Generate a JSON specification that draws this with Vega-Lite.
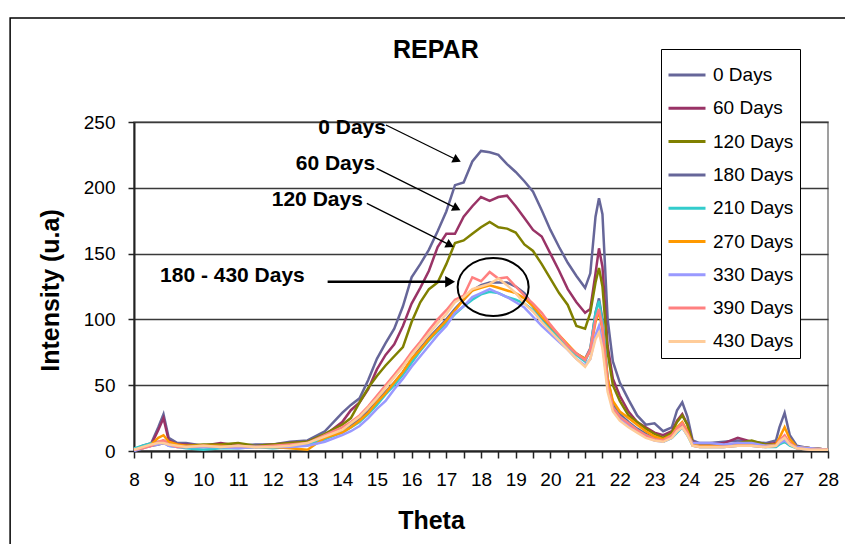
{
  "$schema": "https://vega.github.io/schema/vega-lite/v6.json",
  "width": 694,
  "height": 329,
  "autosize": {"type": "none"},
  "padding": {"left": 134, "top": 122, "right": 17, "bottom": 93},
  "background": "white",
  "config": {
    "font": "Liberation Sans",
    "view": {"stroke": "#808080", "strokeWidth": 1.5},
    "axis": {"labelFont": "Liberation Sans", "labelFontSize": 19, "labelColor": "black", "titleFont": "Liberation Sans", "titleFontSize": 25, "titleFontWeight": "bold", "titleColor": "black", "domainColor": "#222222", "tickColor": "#222222", "labelOverlap": false},
    "legend": {"orient": "none", "legendX": 527, "legendY": -73, "strokeColor": "black", "fillColor": "white", "padding": 6, "labelFont": "Liberation Sans", "labelFontSize": 19, "labelColor": "black", "symbolType": "stroke", "symbolStrokeWidth": 3, "symbolSize": 1369, "labelOffset": 6, "rowPadding": 3.3}
  },
  "resolve": {"axis": {"x": "independent"}},
  "layer": [
    {
      "data": {"values": [{}]},
      "mark": {"type": "rect", "fill": "transparent", "stroke": "black", "strokeWidth": 1.5},
      "encoding": {"x": {"datum": 4.43, "type": "quantitative", "scale": {"domain": [8, 28], "nice": false, "zero": false}, "axis": {"orient": "bottom", "values": [8.5, 9.5, 10.5, 11.5, 12.5, 13.5, 14.5, 15.5, 16.5, 17.5, 18.5, 19.5, 20.5, 21.5, 22.5, 23.5, 24.5, 25.5, 26.5, 27.5], "labels": false, "domain": false, "grid": false, "ticks": true, "tickSize": 7, "tickWidth": 1.5, "tickColor": "#222222", "title": null}}, "x2": {"datum": 40}, "y": {"datum": 329, "type": "quantitative", "title": "Intensity (u.a)"}, "y2": {"datum": -100}}
    },
    {
      "data": {"values": [{"label": "REPAR"}]},
      "mark": {"type": "text", "font": "Liberation Sans", "fontSize": 25, "fontWeight": "bold", "align": "center", "baseline": "alphabetic", "color": "black"},
      "encoding": {"x": {"datum": 16.7, "type": "quantitative", "axis": null}, "y": {"datum": 298.6, "type": "quantitative", "title": "Intensity (u.a)"}, "text": {"field": "label"}}
    },
    {
      "data": {"values": [
        {"t": 8, "0 Days": 1, "60 Days": 1, "120 Days": 1, "180 Days": 1, "210 Days": 2, "270 Days": 1, "330 Days": 0, "390 Days": 1, "430 Days": 1},
        {"t": 8.25, "0 Days": 4, "60 Days": 3, "120 Days": 3, "180 Days": 3, "210 Days": 4, "270 Days": 2, "330 Days": 2, "390 Days": 2, "430 Days": 3},
        {"t": 8.5, "0 Days": 6, "60 Days": 5, "120 Days": 4, "180 Days": 4, "210 Days": 6, "270 Days": 5, "330 Days": 4, "390 Days": 4, "430 Days": 5},
        {"t": 8.7, "0 Days": 18, "60 Days": 16, "120 Days": 5, "180 Days": 6, "210 Days": 7, "270 Days": 10, "330 Days": 5, "390 Days": 7, "430 Days": 6},
        {"t": 8.85, "0 Days": 28, "60 Days": 25, "120 Days": 6, "180 Days": 8, "210 Days": 7, "270 Days": 12, "330 Days": 6, "390 Days": 8, "430 Days": 6},
        {"t": 9, "0 Days": 10, "60 Days": 8, "120 Days": 5, "180 Days": 5, "210 Days": 4, "270 Days": 7, "330 Days": 4, "390 Days": 5, "430 Days": 5},
        {"t": 9.25, "0 Days": 6, "60 Days": 5, "120 Days": 4, "180 Days": 4, "210 Days": 3, "270 Days": 5, "330 Days": 3, "390 Days": 3, "430 Days": 4},
        {"t": 9.5, "0 Days": 6, "60 Days": 5, "120 Days": 4, "180 Days": 3, "210 Days": 2, "270 Days": 4, "330 Days": 3, "390 Days": 3, "430 Days": 3},
        {"t": 10, "0 Days": 4, "60 Days": 4, "120 Days": 5, "180 Days": 3, "210 Days": 1, "270 Days": 4, "330 Days": 3, "390 Days": 4, "430 Days": 4},
        {"t": 10.5, "0 Days": 5, "60 Days": 6, "120 Days": 5, "180 Days": 3, "210 Days": 2, "270 Days": 4, "330 Days": 3, "390 Days": 3, "430 Days": 3},
        {"t": 11, "0 Days": 4, "60 Days": 4, "120 Days": 6, "180 Days": 3, "210 Days": 2, "270 Days": 3, "330 Days": 2, "390 Days": 4, "430 Days": 4},
        {"t": 11.5, "0 Days": 5, "60 Days": 4, "120 Days": 4, "180 Days": 4, "210 Days": 3, "270 Days": 3, "330 Days": 3, "390 Days": 3, "430 Days": 3},
        {"t": 12, "0 Days": 5, "60 Days": 5, "120 Days": 5, "180 Days": 3, "210 Days": 2, "270 Days": 3, "330 Days": 3, "390 Days": 4, "430 Days": 3},
        {"t": 12.5, "0 Days": 7, "60 Days": 6, "120 Days": 6, "180 Days": 4, "210 Days": 3, "270 Days": 2, "330 Days": 3, "390 Days": 5, "430 Days": 4},
        {"t": 13, "0 Days": 8, "60 Days": 7, "120 Days": 7, "180 Days": 5, "210 Days": 5, "270 Days": 1, "330 Days": 4, "390 Days": 6, "430 Days": 6},
        {"t": 13.5, "0 Days": 15, "60 Days": 12, "120 Days": 13, "180 Days": 9, "210 Days": 9, "270 Days": 10, "330 Days": 7, "390 Days": 12, "430 Days": 11},
        {"t": 14, "0 Days": 29, "60 Days": 22, "120 Days": 20, "180 Days": 15, "210 Days": 14, "270 Days": 14, "330 Days": 12, "390 Days": 18, "430 Days": 16},
        {"t": 14.25, "0 Days": 35, "60 Days": 31, "120 Days": 25, "180 Days": 20, "210 Days": 18, "270 Days": 18, "330 Days": 15, "390 Days": 22, "430 Days": 21},
        {"t": 14.5, "0 Days": 40, "60 Days": 37, "120 Days": 37, "180 Days": 24, "210 Days": 22, "270 Days": 23, "330 Days": 19, "390 Days": 27, "430 Days": 26},
        {"t": 14.75, "0 Days": 54, "60 Days": 47, "120 Days": 48, "180 Days": 30, "210 Days": 28, "270 Days": 29, "330 Days": 25, "390 Days": 34, "430 Days": 33},
        {"t": 15, "0 Days": 70, "60 Days": 62, "120 Days": 57, "180 Days": 38, "210 Days": 35, "270 Days": 37, "330 Days": 32, "390 Days": 42, "430 Days": 40},
        {"t": 15.25, "0 Days": 82, "60 Days": 73, "120 Days": 65, "180 Days": 45, "210 Days": 43, "270 Days": 44, "330 Days": 38, "390 Days": 50, "430 Days": 48},
        {"t": 15.5, "0 Days": 93, "60 Days": 81, "120 Days": 72, "180 Days": 52, "210 Days": 50, "270 Days": 52, "330 Days": 47, "390 Days": 58, "430 Days": 56},
        {"t": 15.75, "0 Days": 110, "60 Days": 95, "120 Days": 79, "180 Days": 60, "210 Days": 58, "270 Days": 60, "330 Days": 55, "390 Days": 66, "430 Days": 64},
        {"t": 16, "0 Days": 132, "60 Days": 112, "120 Days": 98, "180 Days": 70, "210 Days": 67, "270 Days": 70, "330 Days": 64, "390 Days": 75, "430 Days": 73},
        {"t": 16.25, "0 Days": 142, "60 Days": 124, "120 Days": 113, "180 Days": 78, "210 Days": 76, "270 Days": 77, "330 Days": 72, "390 Days": 83, "430 Days": 81},
        {"t": 16.5, "0 Days": 153, "60 Days": 137, "120 Days": 123, "180 Days": 86, "210 Days": 84, "270 Days": 85, "330 Days": 80, "390 Days": 92, "430 Days": 89},
        {"t": 16.75, "0 Days": 167, "60 Days": 155, "120 Days": 128, "180 Days": 93, "210 Days": 91, "270 Days": 92, "330 Days": 88, "390 Days": 100, "430 Days": 97},
        {"t": 17, "0 Days": 182, "60 Days": 165, "120 Days": 142, "180 Days": 100, "210 Days": 97, "270 Days": 99, "330 Days": 95, "390 Days": 107, "430 Days": 104},
        {"t": 17.25, "0 Days": 202, "60 Days": 165, "120 Days": 158, "180 Days": 108, "210 Days": 104, "270 Days": 107, "330 Days": 105, "390 Days": 115, "430 Days": 113},
        {"t": 17.5, "0 Days": 204, "60 Days": 178, "120 Days": 160, "180 Days": 115, "210 Days": 110, "270 Days": 115, "330 Days": 110, "390 Days": 118, "430 Days": 117},
        {"t": 17.75, "0 Days": 220, "60 Days": 186, "120 Days": 165, "180 Days": 122, "210 Days": 115, "270 Days": 122, "330 Days": 117, "390 Days": 132, "430 Days": 123},
        {"t": 18, "0 Days": 228, "60 Days": 193, "120 Days": 170, "180 Days": 126, "210 Days": 119, "270 Days": 124, "330 Days": 120, "390 Days": 129, "430 Days": 125},
        {"t": 18.25, "0 Days": 227, "60 Days": 190, "120 Days": 174, "180 Days": 128, "210 Days": 121, "270 Days": 126, "330 Days": 123, "390 Days": 136, "430 Days": 127},
        {"t": 18.5, "0 Days": 225, "60 Days": 193, "120 Days": 170, "180 Days": 128, "210 Days": 120, "270 Days": 124, "330 Days": 120, "390 Days": 131, "430 Days": 131},
        {"t": 18.75, "0 Days": 218, "60 Days": 194, "120 Days": 169, "180 Days": 128, "210 Days": 117, "270 Days": 122, "330 Days": 117, "390 Days": 132, "430 Days": 126},
        {"t": 19, "0 Days": 212, "60 Days": 186, "120 Days": 166, "180 Days": 125, "210 Days": 115, "270 Days": 120, "330 Days": 113, "390 Days": 125, "430 Days": 120},
        {"t": 19.25, "0 Days": 205, "60 Days": 177, "120 Days": 157, "180 Days": 120, "210 Days": 112, "270 Days": 116, "330 Days": 109, "390 Days": 118, "430 Days": 112},
        {"t": 19.5, "0 Days": 197, "60 Days": 168, "120 Days": 152, "180 Days": 110, "210 Days": 107, "270 Days": 110, "330 Days": 102, "390 Days": 112, "430 Days": 106},
        {"t": 19.75, "0 Days": 183, "60 Days": 163, "120 Days": 142, "180 Days": 100, "210 Days": 99, "270 Days": 102, "330 Days": 95, "390 Days": 105, "430 Days": 98},
        {"t": 20, "0 Days": 168, "60 Days": 150, "120 Days": 131, "180 Days": 93, "210 Days": 92, "270 Days": 95, "330 Days": 89, "390 Days": 96, "430 Days": 91},
        {"t": 20.25, "0 Days": 155, "60 Days": 137, "120 Days": 120, "180 Days": 87, "210 Days": 86, "270 Days": 88, "330 Days": 83, "390 Days": 88, "430 Days": 84},
        {"t": 20.5, "0 Days": 143, "60 Days": 123, "120 Days": 111, "180 Days": 80, "210 Days": 79, "270 Days": 81, "330 Days": 77, "390 Days": 80, "430 Days": 77},
        {"t": 20.75, "0 Days": 133, "60 Days": 113, "120 Days": 95, "180 Days": 74, "210 Days": 73, "270 Days": 74, "330 Days": 70, "390 Days": 74, "430 Days": 70},
        {"t": 21, "0 Days": 124, "60 Days": 105, "120 Days": 93, "180 Days": 70, "210 Days": 68, "270 Days": 70, "330 Days": 65, "390 Days": 69, "430 Days": 64},
        {"t": 21.15, "0 Days": 135, "60 Days": 108, "120 Days": 105, "180 Days": 78, "210 Days": 77, "270 Days": 76, "330 Days": 70, "390 Days": 77, "430 Days": 70},
        {"t": 21.3, "0 Days": 178, "60 Days": 135, "120 Days": 128, "180 Days": 105, "210 Days": 105, "270 Days": 98, "330 Days": 88, "390 Days": 100, "430 Days": 85},
        {"t": 21.4, "0 Days": 192, "60 Days": 154, "120 Days": 139, "180 Days": 116, "210 Days": 114, "270 Days": 106, "330 Days": 95, "390 Days": 108, "430 Days": 90},
        {"t": 21.5, "0 Days": 180, "60 Days": 140, "120 Days": 125, "180 Days": 100, "210 Days": 98, "270 Days": 92, "330 Days": 82, "390 Days": 94, "430 Days": 78},
        {"t": 21.65, "0 Days": 100, "60 Days": 80, "120 Days": 75, "180 Days": 55, "210 Days": 52, "270 Days": 55, "330 Days": 48, "390 Days": 50, "430 Days": 45},
        {"t": 21.8, "0 Days": 68, "60 Days": 55, "120 Days": 50, "180 Days": 36, "210 Days": 33, "270 Days": 38, "330 Days": 32, "390 Days": 33, "430 Days": 30},
        {"t": 22, "0 Days": 52, "60 Days": 42, "120 Days": 38, "180 Days": 28, "210 Days": 26, "270 Days": 30, "330 Days": 25, "390 Days": 26, "430 Days": 23},
        {"t": 22.25, "0 Days": 39, "60 Days": 30, "120 Days": 27, "180 Days": 22, "210 Days": 21, "270 Days": 25, "330 Days": 20, "390 Days": 21, "430 Days": 18},
        {"t": 22.5, "0 Days": 27, "60 Days": 22, "120 Days": 22, "180 Days": 17, "210 Days": 16, "270 Days": 20, "330 Days": 15, "390 Days": 16, "430 Days": 14},
        {"t": 22.75, "0 Days": 20, "60 Days": 18, "120 Days": 17, "180 Days": 13, "210 Days": 12, "270 Days": 15, "330 Days": 11, "390 Days": 12, "430 Days": 10},
        {"t": 23, "0 Days": 21, "60 Days": 14, "120 Days": 13, "180 Days": 10, "210 Days": 9, "270 Days": 11, "330 Days": 8, "390 Days": 9, "430 Days": 8},
        {"t": 23.25, "0 Days": 15, "60 Days": 12, "120 Days": 10, "180 Days": 8, "210 Days": 7, "270 Days": 9, "330 Days": 7, "390 Days": 8, "430 Days": 7},
        {"t": 23.5, "0 Days": 18, "60 Days": 15, "120 Days": 14, "180 Days": 11, "210 Days": 10, "270 Days": 12, "330 Days": 10, "390 Days": 12, "430 Days": 10},
        {"t": 23.65, "0 Days": 31, "60 Days": 23, "120 Days": 22, "180 Days": 16, "210 Days": 14, "270 Days": 18, "330 Days": 15, "390 Days": 17, "430 Days": 15},
        {"t": 23.8, "0 Days": 37, "60 Days": 28, "120 Days": 27, "180 Days": 20, "210 Days": 18, "270 Days": 22, "330 Days": 18, "390 Days": 21, "430 Days": 18},
        {"t": 23.95, "0 Days": 26, "60 Days": 20, "120 Days": 20, "180 Days": 14, "210 Days": 12, "270 Days": 15, "330 Days": 12, "390 Days": 14, "430 Days": 12},
        {"t": 24.1, "0 Days": 8, "60 Days": 7, "120 Days": 6, "180 Days": 5, "210 Days": 4, "270 Days": 5, "330 Days": 6, "390 Days": 4, "430 Days": 4},
        {"t": 24.3, "0 Days": 6, "60 Days": 5, "120 Days": 4, "180 Days": 4, "210 Days": 3, "270 Days": 4, "330 Days": 6, "390 Days": 3, "430 Days": 3},
        {"t": 24.6, "0 Days": 6, "60 Days": 5, "120 Days": 4, "180 Days": 4, "210 Days": 3, "270 Days": 4, "330 Days": 6, "390 Days": 3, "430 Days": 3},
        {"t": 25, "0 Days": 7, "60 Days": 6, "120 Days": 4, "180 Days": 4, "210 Days": 3, "270 Days": 4, "330 Days": 5, "390 Days": 3, "430 Days": 3},
        {"t": 25.4, "0 Days": 8, "60 Days": 10, "120 Days": 6, "180 Days": 5, "210 Days": 4, "270 Days": 5, "330 Days": 6, "390 Days": 4, "430 Days": 4},
        {"t": 25.8, "0 Days": 7, "60 Days": 7, "120 Days": 8, "180 Days": 5, "210 Days": 4, "270 Days": 5, "330 Days": 6, "390 Days": 4, "430 Days": 4},
        {"t": 26.2, "0 Days": 6, "60 Days": 5, "120 Days": 5, "180 Days": 4, "210 Days": 3, "270 Days": 4, "330 Days": 4, "390 Days": 3, "430 Days": 3},
        {"t": 26.5, "0 Days": 8, "60 Days": 6, "120 Days": 5, "180 Days": 4, "210 Days": 3, "270 Days": 5, "330 Days": 4, "390 Days": 4, "430 Days": 4},
        {"t": 26.6, "0 Days": 18, "60 Days": 8, "120 Days": 6, "180 Days": 6, "210 Days": 5, "270 Days": 10, "330 Days": 6, "390 Days": 8, "430 Days": 7},
        {"t": 26.75, "0 Days": 29, "60 Days": 10, "120 Days": 7, "180 Days": 9, "210 Days": 7, "270 Days": 18, "330 Days": 8, "390 Days": 12, "430 Days": 10},
        {"t": 26.9, "0 Days": 12, "60 Days": 6, "120 Days": 5, "180 Days": 5, "210 Days": 4, "270 Days": 9, "330 Days": 5, "390 Days": 6, "430 Days": 5},
        {"t": 27.1, "0 Days": 4, "60 Days": 3, "120 Days": 3, "180 Days": 3, "210 Days": 2, "270 Days": 3, "330 Days": 3, "390 Days": 2, "430 Days": 2},
        {"t": 27.5, "0 Days": 2, "60 Days": 2, "120 Days": 2, "180 Days": 2, "210 Days": 1, "270 Days": 2, "330 Days": 2, "390 Days": 1, "430 Days": 1},
        {"t": 28, "0 Days": 1, "60 Days": 1, "120 Days": 1, "180 Days": 1, "210 Days": 1, "270 Days": 1, "330 Days": 1, "390 Days": 1, "430 Days": 1}
      ]},
      "transform": [{"fold": ["0 Days", "60 Days", "120 Days", "180 Days", "210 Days", "270 Days", "330 Days", "390 Days", "430 Days"], "as": ["series", "v"]}],
      "mark": {"type": "line", "strokeWidth": 2.5},
      "encoding": {
        "x": {"field": "t", "type": "quantitative", "title": "Theta", "scale": {"domain": [8, 28], "nice": false, "zero": false},
          "axis": {"orient": "bottom", "values": [8, 9, 10, 11, 12, 13, 14, 15, 16, 17, 18, 19, 20, 21, 22, 23, 24, 25, 26, 27, 28], "format": "d", "labelFlush": false, "labelOverlap": false, "grid": false, "tickSize": 7, "tickWidth": 1.5, "domainWidth": 2, "labelPadding": 12, "titleX": 297, "titleY": 77, "titleBaseline": "alphabetic"}},
        "y": {"field": "v", "type": "quantitative", "title": "Intensity (u.a)", "scale": {"domain": [0, 250], "nice": false},
          "axis": {"values": [0, 50, 100, 150, 200, 250], "grid": true, "gridColor": "#3a3a3a", "gridWidth": 1.5, "tickSize": 6, "tickWidth": 1.5, "domainWidth": 2, "labelPadding": 13, "titleAngle": -90, "titleX": -76, "titleY": 168, "titleBaseline": "alphabetic"}},
        "color": {"field": "series", "type": "nominal", "title": null,
          "scale": {"domain": ["0 Days", "60 Days", "120 Days", "180 Days", "210 Days", "270 Days", "330 Days", "390 Days", "430 Days"],
            "range": ["#666699", "#993366", "#808000", "#666699", "#33CCCC", "#FF9900", "#9999FF", "#FF8080", "#FFCC99"]}}
      }
    },
    {
      "data": {"values": [
        {"label": "0 Days", "x": 13.31, "y": 245.4},
        {"label": "60 Days", "x": 12.66, "y": 218.1},
        {"label": "120 Days", "x": 11.97, "y": 191.0},
        {"label": "180 - 430 Days", "x": 8.75, "y": 133.1}
      ]},
      "mark": {"type": "text", "font": "Liberation Sans", "fontSize": 21, "fontWeight": "bold", "align": "left", "baseline": "middle", "color": "black"},
      "encoding": {
        "x": {"field": "x", "type": "quantitative", "axis": null},
        "y": {"field": "y", "type": "quantitative", "title": "Intensity (u.a)"},
        "text": {"field": "label"}
      }
    },
    {
      "data": {"values": [
        {"x": 15.26, "y": 247.7, "x2": 17.31, "y2": 221.1},
        {"x": 14.99, "y": 214.8, "x2": 17.3, "y2": 184.4},
        {"x": 14.71, "y": 188.2, "x2": 17.11, "y2": 156.5}
      ]},
      "layer": [
        {"mark": {"type": "rule", "color": "black", "strokeWidth": 1.3},
         "encoding": {"x": {"field": "x", "type": "quantitative", "axis": null}, "y": {"field": "y", "type": "quantitative", "title": "Intensity (u.a)"}, "x2": {"field": "x2"}, "y2": {"field": "y2"}}},
        {"mark": {"type": "point", "shape": "triangle-right", "filled": true, "color": "black", "opacity": 1, "size": 90, "angle": 26.5},
         "encoding": {"x": {"field": "x2", "type": "quantitative", "axis": null}, "y": {"field": "y2", "type": "quantitative", "title": "Intensity (u.a)"}}}
      ]
    },
    {
      "data": {"values": [{"x": 13.58, "y": 128.6, "x2": 17.11, "y2": 128.6}]},
      "layer": [
        {"mark": {"type": "rule", "color": "black", "strokeWidth": 2.5},
         "encoding": {"x": {"field": "x", "type": "quantitative", "axis": null}, "y": {"field": "y", "type": "quantitative", "title": "Intensity (u.a)"}, "x2": {"field": "x2"}, "y2": {"field": "y2"}}},
        {"mark": {"type": "point", "shape": "triangle-right", "filled": true, "color": "black", "opacity": 1, "size": 130},
         "encoding": {"x": {"field": "x2", "type": "quantitative", "axis": null}, "y": {"field": "y2", "type": "quantitative", "title": "Intensity (u.a)"}}}
      ]
    },
    {
      "data": {"values": [{"x": 18.35, "y": 124.6}]},
      "mark": {"type": "point", "shape": "M-1,0C-1,-0.451,-0.552,-0.817,0,-0.817C0.552,-0.817,1,-0.451,1,0C1,0.451,0.552,0.817,0,0.817C-0.552,0.817,-1,0.451,-1,0Z", "filled": false, "stroke": "black", "strokeWidth": 2, "opacity": 1, "size": 5041},
      "encoding": {"x": {"field": "x", "type": "quantitative", "axis": null}, "y": {"field": "y", "type": "quantitative", "title": "Intensity (u.a)"}}
    }
  ]
}
